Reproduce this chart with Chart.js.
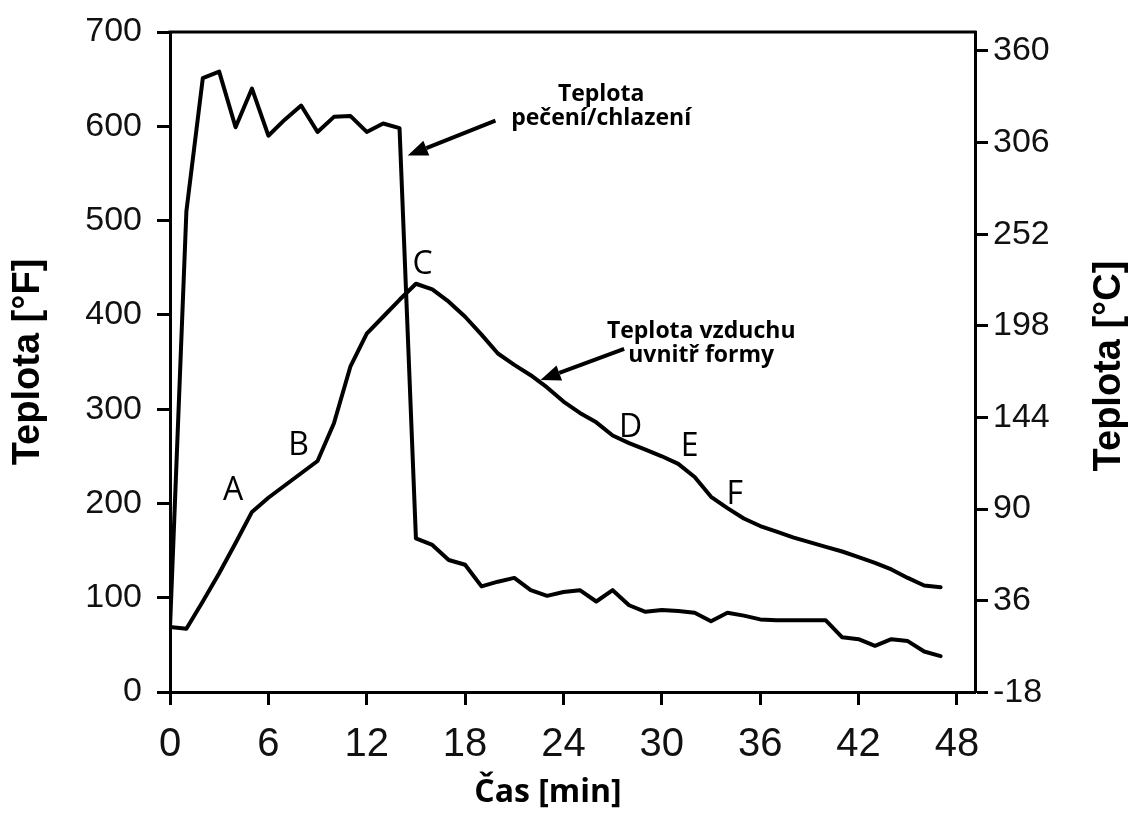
<!DOCTYPE html>
<html lang="cs">
<head>
<meta charset="UTF-8">
<title>Teplota pečení a vzduchu ve formě</title>
<script src="https://cdn.jsdelivr.net/npm/chart.js"></script>
<style>
  body { margin: 0; background: #fff; }
  #wrap { width: 1128px; height: 813px; }
</style>
</head>
<body>
<div id="wrap"><canvas id="chart" width="1128" height="813"></canvas></div>
<script>
// čas [min], hodnoty odečtené z grafu ve °F
const time = [0, 1, 2, 3, 4, 5, 6, 7, 8, 9, 10, 11, 12, 13, 14, 15, 16, 17, 18, 19, 20, 21, 22, 23,
              24, 25, 26, 27, 28, 29, 30, 31, 32, 33, 34, 35, 36, 37, 38, 39, 40, 41, 42, 43, 44, 45, 46, 47];
const ovenF = [68, 510, 651, 658, 599, 640, 590, 607, 622, 594, 610, 611, 594, 603, 598, 163,
               156, 140, 135, 112, 117, 121, 108, 102, 106, 108, 96, 108, 92, 85, 87, 86,
               84, 75, 84, 81, 77, 76, 76, 76, 76, 58, 56, 49, 56, 54, 43, 38];
const airF = [69, 67, 96, 126, 158, 191, 206, 219, 232, 245, 285, 345, 380, 398, 416, 433,
              427, 414, 398, 379, 359, 347, 336, 323, 308, 296, 286, 272, 264, 257, 250, 242,
              228, 207, 195, 184, 176, 170, 164, 159, 154, 149, 143, 137, 130, 121, 113, 111];

const xTicks = [0, 6, 12, 18, 24, 30, 36, 42, 48];
const fTicks = [0, 100, 200, 300, 400, 500, 600, 700];
const cTicks = [-18, 36, 90, 144, 198, 252, 306, 360];

// popisky bodů A–F (čas, °F)
const letters = [
  { text: 'A', t: 3.85, f: 216 },
  { text: 'B', t: 7.85, f: 264 },
  { text: 'C', t: 15.4, f: 456 },
  { text: 'D', t: 28.1, f: 283 },
  { text: 'E', t: 31.7, f: 263 },
  { text: 'F', t: 34.45, f: 212 }
];

// poznámky se šipkou
const notes = [
  { lines: ['Teplota', 'pečení/chlazení'], t: 26.3, f: 634, from: [19.85, 606], to: [14.5, 569] },
  { lines: ['Teplota vzduchu', 'uvnitř formy'], t: 32.4, f: 382, from: [27.7, 364], to: [22.6, 331] }
];

const fMin = 0, fMax = 700;
const toC = v => (v - 32) * 5 / 9;

function arrow(ctx, x1, y1, x2, y2) {
  const a = Math.atan2(y2 - y1, x2 - x1);
  const head = 20, half = 8;
  const bx = x2 - head * Math.cos(a), by = y2 - head * Math.sin(a);
  ctx.lineWidth = 4;
  ctx.beginPath();
  ctx.moveTo(x1, y1);
  ctx.lineTo(bx, by);
  ctx.stroke();
  ctx.beginPath();
  ctx.moveTo(x2, y2);
  ctx.lineTo(bx + half * Math.sin(a), by - half * Math.cos(a));
  ctx.lineTo(bx - half * Math.sin(a), by + half * Math.cos(a));
  ctx.closePath();
  ctx.fill();
}

const overlay = {
  id: 'overlay',
  afterDraw(chart) {
    const { ctx, chartArea: area, scales: { x, y } } = chart;
    ctx.save();
    ctx.strokeStyle = '#000';
    ctx.fillStyle = '#000';

    // horní linka rámu
    ctx.lineWidth = 3;
    ctx.beginPath();
    ctx.moveTo(area.left - 1.5, area.top);
    ctx.lineTo(area.right + 1.5, area.top);
    ctx.stroke();

    // písmena A–F
    ctx.font = '32px "Open Sans"';
    ctx.textAlign = 'center';
    ctx.textBaseline = 'alphabetic';
    letters.forEach(l => {
      ctx.fillText(l.text, x.getPixelForValue(l.t), y.getPixelForValue(l.f) + 11.5);
    });

    // poznámky a šipky
    ctx.font = 'bold 23px "Open Sans"';
    ctx.textBaseline = 'middle';
    notes.forEach(n => {
      const cx = x.getPixelForValue(n.t), cy = y.getPixelForValue(n.f);
      n.lines.forEach((s, i) => ctx.fillText(s, cx, cy + i * 24));
      arrow(ctx, x.getPixelForValue(n.from[0]), y.getPixelForValue(n.from[1]),
                 x.getPixelForValue(n.to[0]), y.getPixelForValue(n.to[1]));
    });

    // název osy x
    ctx.font = 'bold 32px "Open Sans"';
    ctx.fillText('Čas [min]', 548, 793);

    // název pravé osy
    ctx.translate(1110, 366);
    ctx.rotate(-Math.PI / 2);
    ctx.font = 'bold 38px "Liberation Sans"';
    ctx.fillText('Teplota [°C]', 0, 0);
    ctx.restore();
  }
};

const lineStyle = {
  borderColor: '#000',
  borderWidth: 4,
  pointRadius: 0,
  tension: 0,
  borderJoinStyle: 'round',
  borderCapStyle: 'round',
  yAxisID: 'y'
};

new Chart(document.getElementById('chart'), {
  type: 'line',
  data: {
    datasets: [
      { ...lineStyle, label: 'Teplota pečení/chlazení', data: time.map((t, i) => ({ x: t, y: ovenF[i] })) },
      { ...lineStyle, label: 'Teplota vzduchu uvnitř formy', data: time.map((t, i) => ({ x: t, y: airF[i] })) }
    ]
  },
  options: {
    responsive: false,
    animation: false,
    layout: { padding: { top: 31, left: 0, right: 0, bottom: 0 } },
    plugins: { legend: { display: false }, tooltip: { enabled: false } },
    scales: {
      x: {
        type: 'linear',
        position: 'bottom',
        min: 0,
        max: 49.1,
        afterBuildTicks: s => { s.ticks = xTicks.map(v => ({ value: v })); },
        afterFit: s => { s.height = 121; },
        ticks: {
          autoSkip: false,
          maxRotation: 0,
          padding: 16,
          color: '#111',
          font: { family: '"Liberation Sans Narrow", "Liberation Sans"', size: 40 }
        },
        grid: { drawOnChartArea: false, tickLength: 13, tickWidth: 3, tickColor: '#000' },
        border: { display: true, width: 3, color: '#000' }
      },
      y: {
        position: 'left',
        min: fMin,
        max: fMax,
        afterBuildTicks: s => { s.ticks = fTicks.map(v => ({ value: v })); },
        afterFit: s => { s.width = 170; },
        ticks: {
          padding: 15,
          color: '#111',
          font: { family: '"Liberation Sans"', size: 34, lineHeight: 1 }
        },
        title: {
          display: true,
          text: 'Teplota [°F]',
          color: '#000',
          font: { family: '"Liberation Sans"', size: 38, weight: 'bold', lineHeight: 1 },
          padding: { top: 10, bottom: 0 }
        },
        grid: { drawOnChartArea: false, tickLength: 13, tickWidth: 3, tickColor: '#000' },
        border: { display: true, width: 3, color: '#000' }
      },
      y2: {
        position: 'right',
        display: true,
        min: toC(fMin),
        max: toC(fMax),
        afterBuildTicks: s => { s.ticks = cTicks.map(v => ({ value: v })); },
        afterFit: s => { s.width = 153; },
        ticks: {
          padding: 5,
          color: '#111',
          font: { family: '"Liberation Sans"', size: 34, lineHeight: 1 }
        },
        grid: { drawOnChartArea: false, tickLength: 13, tickWidth: 3, tickColor: '#000' },
        border: { display: true, width: 3, color: '#000' }
      }
    }
  },
  plugins: [overlay]
});
</script>
</body>
</html>
